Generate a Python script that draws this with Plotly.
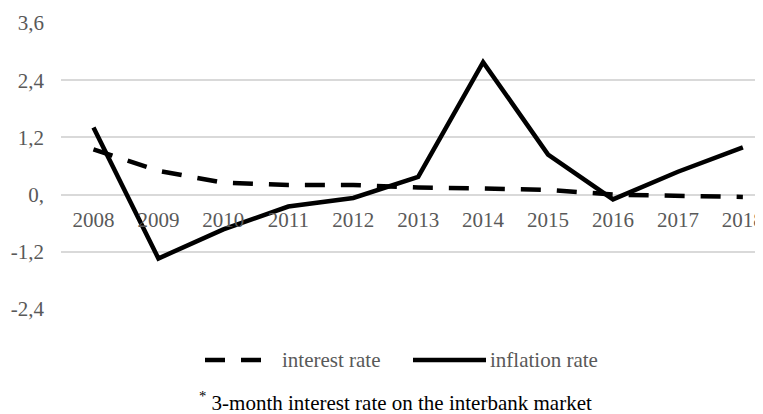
import plotly.graph_objects as go

years = ["2008", "2009", "2010", "2011", "2012", "2013", "2014", "2015", "2016", "2017", "2018"]
interest_rate = [0.95, 0.50, 0.25, 0.20, 0.20, 0.15, 0.13, 0.10, 0.00, -0.02, -0.05]
inflation_rate = [1.41, -1.34, -0.73, -0.25, -0.07, 0.37, 2.78, 0.84, -0.10, 0.48, 0.99]
y_ticks = [-2.4, -1.2, 0, 1.2, 2.4, 3.6]
y_tick_labels = ["-2,4", "-1,2", "0,", "1,2", "2,4", "3,6"]
footnote = "<sup>*</sup> 3-month interest rate on the interbank market"

# the page body has an 8px margin, so the figure is sized to the visible area
OFF = 8
W, H = 763 - OFF, 414 - OFF
L, R, T, B = 61 - OFF, 0, 23 - OFF, 105
YMIN, YMAX = -2.4, 3.6

def px_x(x):
    return (x - OFF - L) / (W - L - R)

def px_y(y):
    return (H - B - (y - OFF)) / (H - T - B)

fig = go.Figure()
fig.add_trace(go.Scatter(x=years, y=interest_rate, mode="lines", name="interest rate",
                         line=dict(color="black", width=4.5, dash="20px,16px")))
fig.add_trace(go.Scatter(x=years, y=inflation_rate, mode="lines", name="inflation rate",
                         line=dict(color="black", width=4.5)))

grey = "#595959"
font_family = "Liberation Serif, Times New Roman, serif"
FS = 21

fig.update_layout(
    width=W, height=H,
    margin=dict(l=L, r=R, t=T, b=B, autoexpand=False),
    plot_bgcolor="white", paper_bgcolor="white",
    showlegend=False,
    font=dict(family=font_family, size=FS, color=grey),
    xaxis=dict(
        type="category", range=[-0.5, 10.31], automargin=False,
        showgrid=False, zeroline=False, showline=False,
        anchor="free", position=(0 - YMIN) / (YMAX - YMIN),
        ticks="", ticklabelstandoff=10,
        tickfont=dict(size=FS, color=grey, family=font_family),
    ),
    yaxis=dict(
        range=[YMIN, YMAX], tickvals=y_ticks, ticktext=y_tick_labels, automargin=False,
        showgrid=True, gridcolor="#d9d9d9", gridwidth=1.5,
        zeroline=True, zerolinecolor="#d9d9d9", zerolinewidth=1.5,
        showline=False, ticks="", ticklabelstandoff=16,
        tickfont=dict(size=FS, color=grey, family=font_family),
    ),
)

# custom legend
ly = px_y(360)
fig.add_shape(type="line", xref="paper", yref="paper", x0=px_x(205), x1=px_x(267), y0=ly, y1=ly,
              line=dict(color="black", width=4.5, dash="20px,16px"))
fig.add_annotation(xref="paper", yref="paper", x=px_x(280), y=ly, text="interest rate",
                   showarrow=False, xanchor="left", yanchor="middle",
                   font=dict(size=FS, color=grey, family=font_family))
fig.add_shape(type="line", xref="paper", yref="paper", x0=px_x(413), x1=px_x(486), y0=ly, y1=ly,
              line=dict(color="black", width=4.5))
fig.add_annotation(xref="paper", yref="paper", x=px_x(488), y=ly, text="inflation rate",
                   showarrow=False, xanchor="left", yanchor="middle",
                   font=dict(size=FS, color=grey, family=font_family))
fig.add_annotation(xref="paper", yref="paper", x=px_x(395), y=px_y(401), text=footnote,
                   showarrow=False, xanchor="center", yanchor="middle",
                   font=dict(size=FS, color="black", family=font_family))

fig.write_html("out.html")
